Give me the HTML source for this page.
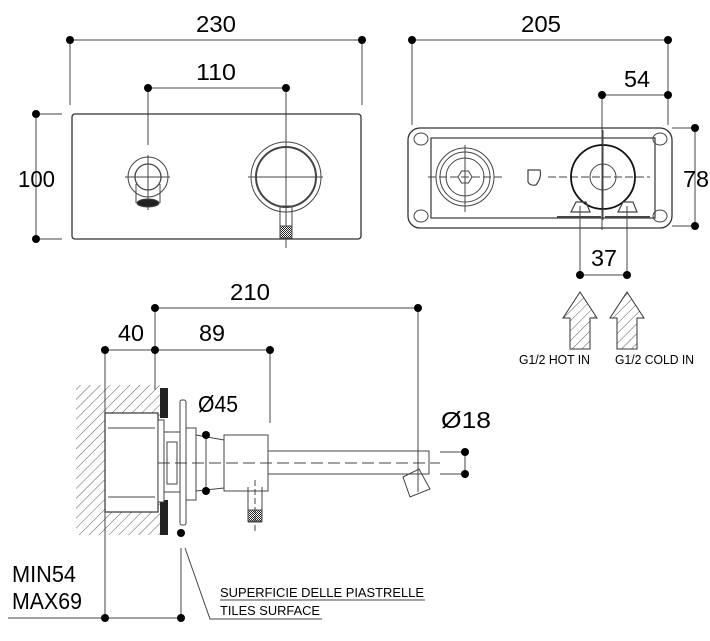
<!DOCTYPE html>
<html><head><meta charset="utf-8"><style>html,body{margin:0;padding:0;background:#fff}svg{display:block}text{font-family:"Liberation Sans Narrow","Liberation Sans",sans-serif;fill:#000}</style></head>
<body>
<svg width="710" height="641" viewBox="0 0 710 641" xmlns="http://www.w3.org/2000/svg">
<defs>
<pattern id="h" width="7" height="7" patternUnits="userSpaceOnUse" patternTransform="rotate(45)"><line x1="0" y1="0" x2="0" y2="7" stroke="#333" stroke-width="0.8"/></pattern>
<pattern id="k" width="2" height="2" patternUnits="userSpaceOnUse"><rect width="2" height="2" fill="#fff"/><rect width="1" height="1" fill="#222"/><rect x="1" y="1" width="1" height="1" fill="#222"/></pattern>
</defs>
<g stroke="#444" stroke-width="1" fill="none">
<!-- front view dims -->
<line x1="70" y1="40" x2="362" y2="40"/><line x1="70" y1="40" x2="70" y2="105"/><line x1="362" y1="40" x2="362" y2="105"/>
<line x1="148" y1="88" x2="286" y2="88"/><line x1="148" y1="88" x2="148" y2="145"/><line x1="286" y1="88" x2="286" y2="132"/>
<line x1="36" y1="114" x2="36" y2="239"/><line x1="36" y1="114" x2="62" y2="114"/><line x1="36" y1="239" x2="62" y2="239"/>
<rect x="72" y="114" width="289" height="125" rx="3" stroke="#333" stroke-width="1.3"/>
<!-- spout front -->
<line x1="125" y1="177" x2="170" y2="177"/><line x1="148" y1="155" x2="148" y2="210"/>
<circle cx="148" cy="177" r="20"/><circle cx="148" cy="177" r="13" stroke-width="1.3"/>
<path d="M136 184 V203 M160 184 V203"/>
<ellipse cx="148" cy="203" rx="11" ry="4" fill="#222"/>
<!-- handle front -->
<line x1="248" y1="177" x2="323" y2="177"/><line x1="286" y1="132" x2="286" y2="248"/>
<circle cx="286" cy="177" r="35"/><circle cx="286" cy="177" r="30" stroke-width="2"/>
<rect x="280" y="206" width="12" height="20"/><rect x="280" y="226" width="12" height="12" fill="url(#k)"/>
<!-- back view dims -->
<line x1="412" y1="40" x2="668" y2="40"/><line x1="412" y1="40" x2="412" y2="125"/><line x1="668" y1="40" x2="668" y2="125"/>
<line x1="602" y1="95" x2="668" y2="95"/><line x1="602" y1="95" x2="602" y2="230"/>
<line x1="695" y1="128" x2="695" y2="226"/><line x1="672" y1="128" x2="695" y2="128"/><line x1="672" y1="226" x2="695" y2="226"/>
<path d="M420 128 H660 A12 12 0 0 1 672 140 V216 A12 12 0 0 1 660 228 H420 A12 12 0 0 1 408 216 V140 A12 12 0 0 1 420 128 Z" stroke="#333" stroke-width="1.3"/>
<rect x="431" y="138" width="224" height="80" stroke-width="1.3"/>
<ellipse cx="421" cy="139" rx="7" ry="6"/><ellipse cx="660" cy="139" rx="7" ry="6"/><ellipse cx="421" cy="216" rx="7" ry="6"/><ellipse cx="660" cy="216" rx="7" ry="6"/>
<circle cx="465" cy="177" r="29"/><circle cx="465" cy="177" r="25"/><circle cx="465" cy="177" r="19"/>
<polygon points="458,177 461.5,171 468.5,171 472,177 468.5,183 461.5,183"/>
<line x1="428" y1="177" x2="505" y2="177" stroke-dasharray="8 3"/><line x1="465" y1="145" x2="465" y2="212"/>
<path d="M528 170 H540 Q542 177 536 185 Q530 186 528 182 Z" stroke-width="1.2"/>
<line x1="548" y1="177" x2="650" y2="177" stroke-dasharray="8 3"/>
<circle cx="603" cy="177" r="32" stroke="#111" stroke-width="1.8"/><circle cx="603" cy="177" r="13"/>
<line x1="603" y1="130" x2="603" y2="220"/>
<path d="M571 212 L576 202 H586 L590 212 Z M618 212 L623 202 H633 L637 212 Z" stroke-width="1.2"/>
<path d="M557 217 H601 M605 217 H650" stroke-width="2"/>
<line x1="580" y1="206" x2="580" y2="275"/><line x1="627" y1="206" x2="627" y2="275"/>
<line x1="580" y1="275" x2="627" y2="275"/>
<!-- arrows -->
<path d="M580 292 L597 318 H590 V349 H570 V318 H563 Z" fill="url(#h)" stroke="#333"/>
<path d="M627 292 L644 318 H637 V349 H617 V318 H610 Z" fill="url(#h)" stroke="#333"/>
<!-- side view dims -->
<line x1="155" y1="308" x2="418" y2="308"/><line x1="105" y1="350" x2="270" y2="350"/>
<line x1="105" y1="350" x2="105" y2="618"/><line x1="155" y1="308" x2="155" y2="390"/>
<line x1="270" y1="350" x2="270" y2="423"/><line x1="418" y1="308" x2="418" y2="492"/>
<!-- wall hatch -->
<rect x="76" y="385" width="84" height="150" fill="url(#h)" stroke="none"/>
<rect x="105" y="413" width="53" height="99" fill="#fff" stroke="#333" stroke-width="1.2"/>
<line x1="108" y1="428" x2="155" y2="428"/><line x1="108" y1="497" x2="155" y2="497"/>
<rect x="160" y="388" width="8" height="30" fill="#222" stroke="none"/>
<rect x="160" y="500" width="8" height="35" fill="#222" stroke="none"/>
<rect x="158" y="420" width="6" height="82" fill="#fff"/>
<rect x="180" y="400" width="6" height="125" rx="2"/>
<rect x="164" y="432" width="16" height="60"/><rect x="167" y="442" width="10" height="42"/>
<rect x="186" y="428" width="10" height="72"/>
<path d="M196 435 L224 440 M196 491 L224 488"/>
<line x1="206" y1="435" x2="206" y2="491"/>
<rect x="224" y="435" width="44" height="56"/>
<rect x="268" y="451" width="161" height="23"/>
<line x1="158" y1="463" x2="440" y2="463" stroke-dasharray="12 5"/>
<path d="M403 477 L419 469 L430 489 L410 497 Z"/>
<line x1="248" y1="487" x2="248" y2="522"/><line x1="262" y1="487" x2="262" y2="522"/><line x1="248" y1="522" x2="262" y2="522"/>
<rect x="248" y="510" width="14" height="11" fill="url(#k)"/>
<line x1="255" y1="480" x2="255" y2="532" stroke-dasharray="6 3"/>
<line x1="465" y1="452" x2="465" y2="474"/><line x1="440" y1="452" x2="465" y2="452"/><line x1="440" y1="474" x2="465" y2="474"/>
<!-- leaders -->
<line x1="181" y1="548" x2="181" y2="618"/><line x1="8" y1="618" x2="181" y2="618"/>
<path d="M185 548 L210 619 H322"/>
<line x1="220" y1="600" x2="425" y2="600"/>
</g>
<g fill="#000">
<circle cx="70" cy="40" r="4"/><circle cx="362" cy="40" r="4"/><circle cx="148" cy="88" r="4"/><circle cx="286" cy="88" r="4"/>
<circle cx="36" cy="114" r="4"/><circle cx="36" cy="239" r="4"/>
<circle cx="412" cy="40" r="4"/><circle cx="668" cy="40" r="4"/><circle cx="602" cy="95" r="4"/><circle cx="668" cy="95" r="4"/>
<circle cx="695" cy="128" r="4"/><circle cx="695" cy="226" r="4"/>
<circle cx="580" cy="275" r="4"/><circle cx="627" cy="275" r="4"/>
<circle cx="155" cy="308" r="4"/><circle cx="418" cy="308" r="4"/>
<circle cx="105" cy="350" r="4"/><circle cx="155" cy="350" r="4"/><circle cx="270" cy="350" r="4"/>
<circle cx="206" cy="435" r="4"/><circle cx="206" cy="491" r="4"/>
<circle cx="465" cy="452" r="4"/><circle cx="465" cy="474" r="4"/>
<circle cx="181" cy="533" r="4"/><circle cx="105" cy="618" r="4"/><circle cx="181" cy="618" r="4"/>
</g>
<g font-size="23">
<text x="196" y="32" textLength="40" lengthAdjust="spacingAndGlyphs">230</text>
<text x="196" y="80" textLength="40" lengthAdjust="spacingAndGlyphs">110</text>
<text x="18" y="187" textLength="37" lengthAdjust="spacingAndGlyphs">100</text>
<text x="521" y="32" textLength="40" lengthAdjust="spacingAndGlyphs">205</text>
<text x="624" y="87" textLength="26" lengthAdjust="spacingAndGlyphs">54</text>
<text x="683" y="187" textLength="26" lengthAdjust="spacingAndGlyphs">78</text>
<text x="591" y="266" textLength="26" lengthAdjust="spacingAndGlyphs">37</text>
<text x="230" y="300" textLength="40" lengthAdjust="spacingAndGlyphs">210</text>
<text x="118" y="341" textLength="26" lengthAdjust="spacingAndGlyphs">40</text>
<text x="199" y="341" textLength="26" lengthAdjust="spacingAndGlyphs">89</text>
<text x="198" y="412" textLength="40" lengthAdjust="spacingAndGlyphs">Ø45</text>
<text x="441" y="428" textLength="50" lengthAdjust="spacingAndGlyphs">Ø18</text>
<text x="12" y="582" textLength="64" lengthAdjust="spacingAndGlyphs">MIN54</text>
<text x="12" y="609" textLength="70" lengthAdjust="spacingAndGlyphs">MAX69</text>
</g>
<g font-size="13">
<text x="519" y="364" textLength="71" lengthAdjust="spacingAndGlyphs">G1/2 HOT IN</text>
<text x="615" y="364" textLength="79" lengthAdjust="spacingAndGlyphs">G1/2 COLD IN</text>
<text x="220" y="597" textLength="204" lengthAdjust="spacingAndGlyphs">SUPERFICIE DELLE PIASTRELLE</text>
<text x="220" y="615" textLength="100" lengthAdjust="spacingAndGlyphs">TILES SURFACE</text>
</g>
</svg>
</body></html>
